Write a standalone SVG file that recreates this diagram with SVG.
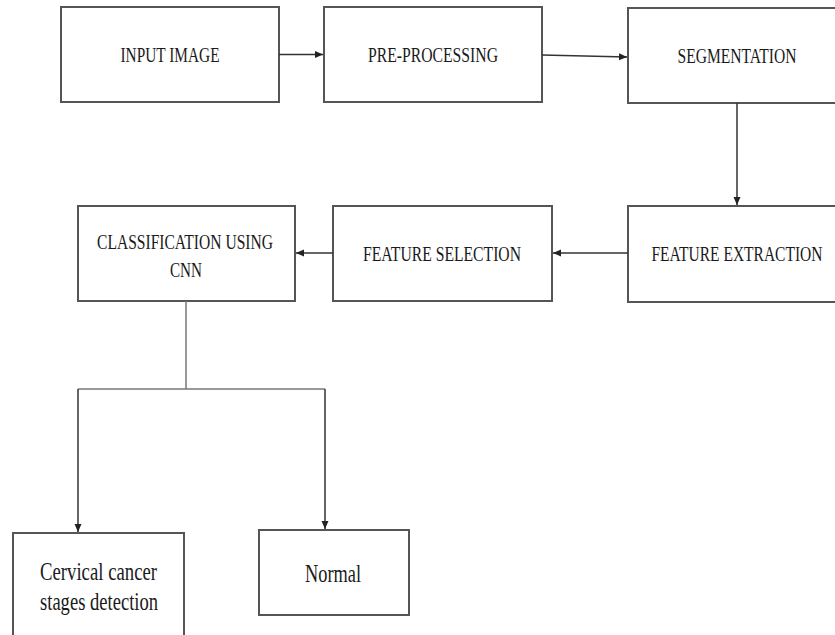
<svg xmlns="http://www.w3.org/2000/svg" width="835" height="635" viewBox="0 0 835 635">
<defs>
<marker id="ah" viewBox="0 0 8 8" refX="8" refY="4" markerWidth="8" markerHeight="8" markerUnits="userSpaceOnUse" orient="auto">
<path d="M0,0.5 L8,4 L0,7.5 Z" fill="#222"/>
</marker>
<style>
.box{fill:#fff;stroke:#555;stroke-width:2}
text{font-family:'Liberation Serif','Times New Roman',serif;fill:#1a1a1a;text-anchor:middle}
.t{font-size:20px}
.tl{font-size:25px}
.c{fill:none;stroke:#333;stroke-width:1.5}
.cg{fill:none;stroke:#777;stroke-width:1.5}
</style>
</defs>
<rect width="835" height="635" fill="#fff"/>
<g id="input-image"><rect class="box" x="61" y="7" width="218" height="95"/><text class="t" x="170" y="62" textLength="99" lengthAdjust="spacingAndGlyphs">INPUT IMAGE</text></g>
<g id="pre-processing"><rect class="box" x="324" y="7" width="218" height="95"/><text class="t" x="433" y="62" textLength="130" lengthAdjust="spacingAndGlyphs">PRE-PROCESSING</text></g>
<g id="segmentation"><rect class="box" x="628" y="8" width="230" height="95"/><text class="t" x="737" y="63" textLength="119" lengthAdjust="spacingAndGlyphs">SEGMENTATION</text></g>
<g id="feature-extraction"><rect class="box" x="628" y="206" width="230" height="96"/><text class="t" x="737" y="261" textLength="171" lengthAdjust="spacingAndGlyphs">FEATURE EXTRACTION</text></g>
<g id="feature-selection"><rect class="box" x="333" y="206" width="219" height="95"/><text class="t" x="442" y="261" textLength="158" lengthAdjust="spacingAndGlyphs">FEATURE SELECTION</text></g>
<g id="classification"><rect class="box" x="78" y="206" width="217" height="95"/><text class="t" x="185" y="249" textLength="176" lengthAdjust="spacingAndGlyphs">CLASSIFICATION USING</text><text class="t" x="186" y="277" textLength="32" lengthAdjust="spacingAndGlyphs">CNN</text></g>
<g id="cervical"><rect class="box" x="13" y="533" width="171" height="120"/><text class="tl" x="98.5" y="580" textLength="117" lengthAdjust="spacingAndGlyphs">Cervical cancer</text><text class="tl" x="99" y="610" textLength="118" lengthAdjust="spacingAndGlyphs">stages detection</text></g>
<g id="normal"><rect class="box" x="259" y="530" width="150" height="85"/><text class="tl" x="333" y="582" textLength="56" lengthAdjust="spacingAndGlyphs">Normal</text></g>
<g id="connectors">
<line class="c" x1="279" y1="54.5" x2="323" y2="54.5" marker-end="url(#ah)"/>
<line class="c" x1="542" y1="55" x2="627" y2="57" marker-end="url(#ah)"/>
<line class="c" x1="737" y1="103" x2="737" y2="205" marker-end="url(#ah)"/>
<line class="c" x1="628" y1="253" x2="553" y2="253" marker-end="url(#ah)"/>
<line class="c" x1="333" y1="253" x2="296" y2="253" marker-end="url(#ah)"/>
<polyline class="cg" points="186,301 186,389"/>
<polyline class="cg" points="78,389 325,389"/>
<line class="c" x1="78" y1="389" x2="78" y2="532" marker-end="url(#ah)"/>
<line class="c" x1="325" y1="389" x2="325" y2="529" marker-end="url(#ah)"/>
</g>
</svg>
